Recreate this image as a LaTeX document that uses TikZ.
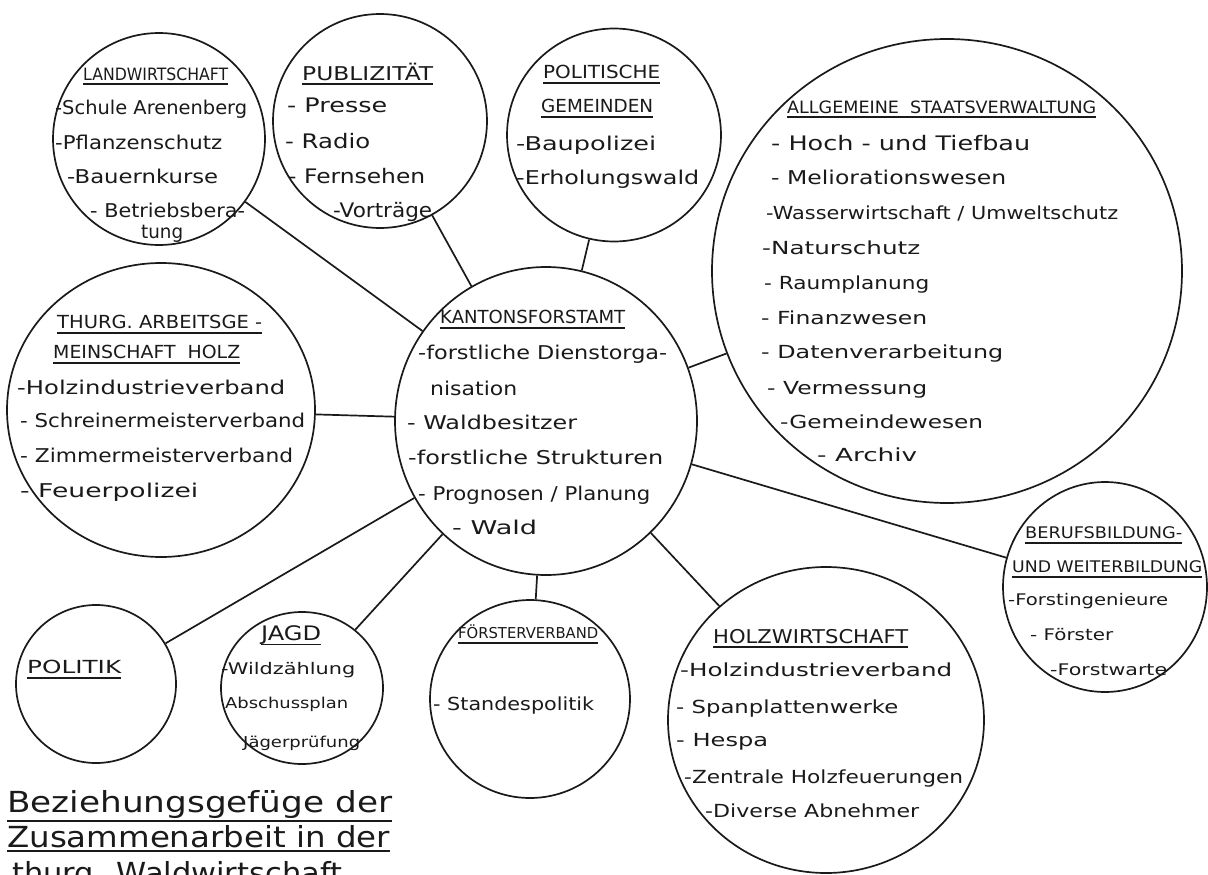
\documentclass[tikz,border=0pt]{standalone}
\usepackage{fontspec}
\setmainfont{DejaVu Sans}
\usepackage{graphicx}
\usetikzlibrary{shapes.geometric}
\newsavebox\ulbox
\newcommand\ul[2][5pt]{\sbox\ulbox{#2}\rlap{\rule[-#1]{\wd\ulbox}{1.8pt}}\usebox\ulbox}
\newcommand\T[6]{\node[txt,font=\fontsize{#5}{#5}\selectfont] (#1) at (#2,{#3+0.37*#5}) {\resizebox{#4pt}{\height}{#6}};}
\begin{document}
\begin{tikzpicture}[x=1pt,y=-1pt,
  ring/.style={ellipse,draw=ink,line width=1.7pt,inner sep=0pt},
  txt/.style={anchor=base west,inner sep=0pt,text=ink},
  link/.style={draw=ink,line width=1.7pt}]
\definecolor{ink}{HTML}{1A1A1A}
\useasboundingbox[fill=white] (0,0) rectangle (1208,875);
% circles
\node[ring,minimum width=212pt,minimum height=212pt] (lw) at (159,139) {};
\node[ring,minimum width=214pt,minimum height=214pt] (pu) at (380,121) {};
\node[ring,minimum width=214pt,minimum height=213pt] (pg) at (614,135) {};
\node[ring,minimum width=470pt,minimum height=464pt] (ag) at (947,271) {};
\node[ring,minimum width=302pt,minimum height=308pt] (kf) at (546,421) {};
\node[ring,minimum width=308pt,minimum height=294pt] (th) at (161,410) {};
\node[ring,minimum width=160pt,minimum height=158pt] (po) at (96,684) {};
\node[ring,minimum width=162pt,minimum height=152pt] (jg) at (302,688) {};
\node[ring,minimum width=200pt,minimum height=198pt] (fv) at (530,699) {};
\node[ring,minimum width=316pt,minimum height=306pt] (hw) at (826,720) {};
\node[ring,minimum width=204pt,minimum height=210pt] (bb) at (1105,587) {};
% connectors
\draw[link] (lw) -- (kf);
\draw[link] (pu) -- (kf);
\draw[link] (pg) -- (kf);
\draw[link] (ag) -- (kf);
\draw[link] (th) -- (kf);
\draw[link] (po) -- (kf);
\draw[link] (jg) -- (kf);
\draw[link] (fv) -- (kf);
\draw[link] (hw) -- (kf);
\draw[link] (bb) -- (kf);
% Landwirtschaft
\T{lw0}{83}{74}{145}{17}{\ul{LANDWIRTSCHAFT}}
\T{lw1}{55}{107}{192}{19}{-Schule Arenenberg}
\T{lw2}{55}{142}{167}{19}{-Pflanzenschutz}
\T{lw3}{67}{176}{151}{19}{-Bauernkurse}
\T{lw4}{90}{210}{155}{19}{- Betriebsbera-}
\T{lw5}{141}{231}{42}{19}{tung}
% Publizitaet
\T{pu0}{302}{73}{131}{19}{\ul{PUBLIZITÄT}}
\T{pu1}{287}{105}{100}{20}{- Presse}
\T{pu2}{285}{141}{85}{20}{- Radio}
\T{pu3}{288}{176}{137}{20}{- Fernsehen}
\T{pu4}{333}{210}{99}{20}{-Vorträge}
% Politische Gemeinden
\T{pg0}{543}{72}{117}{18}{\ul{POLITISCHE}}
\T{pg1}{541}{106}{112}{18}{\ul{GEMEINDEN}}
\T{pg2}{516}{143}{140}{19}{-Baupolizei}
\T{pg3}{516}{177}{183}{19}{-Erholungswald}
% Allgemeine Staatsverwaltung
\T{ag0}{787}{107}{309}{17}{\ul{ALLGEMEINE\ \ STAATSVERWALTUNG}}
\T{ag1}{771}{143}{259}{20}{- Hoch - und Tiefbau}
\T{ag2}{771}{177}{235}{19}{- Meliorationswesen}
\T{ag3}{766}{213}{352}{18}{-Wasserwirtschaft / Umweltschutz}
\T{ag4}{762}{248}{158}{18}{-Naturschutz}
\T{ag5}{764}{283}{165}{18}{- Raumplanung}
\T{ag6}{761}{318}{166}{18}{- Finanzwesen}
\T{ag7}{761}{352}{242}{18}{- Datenverarbeitung}
\T{ag8}{767}{388}{160}{18}{- Vermessung}
\T{ag9}{780}{422}{203}{18}{-Gemeindewesen}
\T{ag10}{817}{455}{100}{18}{- Archiv}
% Kantonsforstamt
\T{kf0}{440}{317}{185}{18}{\ul{KANTONSFORSTAMT}}
\T{kf1}{418}{352}{249}{19}{-forstliche Dienstorga-}
\T{kf2}{430}{388}{87}{19}{nisation}
\T{kf3}{407}{422}{170}{19}{- Waldbesitzer}
\T{kf4}{408}{457}{255}{19}{-forstliche Strukturen}
\T{kf5}{418}{493}{232}{19}{- Prognosen / Planung}
\T{kf6}{452}{527}{85}{19}{- Wald}
% Thurg. Arbeitsgemeinschaft Holz
\T{th0}{57}{322}{205}{18}{\ul{THURG. ARBEITSGE -}}
\T{th1}{53}{352}{187}{18}{\ul{MEINSCHAFT\ \ HOLZ}}
\T{th2}{17}{387}{268}{19}{-Holzindustrieverband}
\T{th3}{20}{420}{285}{19}{- Schreinermeisterverband}
\T{th4}{20}{455}{273}{19}{- Zimmermeisterverband}
\T{th5}{20}{490}{178}{19}{- Feuerpolizei}
% Politik
\T{po0}{27}{667}{94}{18}{\ul{POLITIK}}
% Jagd
\T{jg0}{261}{633}{60}{20}{\ul{JAGD}}
\T{jg1}{221}{669}{134}{16}{-Wildzählung}
\T{jg2}{225}{703}{123}{15}{Abschussplan}
\T{jg3}{243}{742}{117}{15}{Jägerprüfung}
% Foersterverband
\T{fv0}{458}{633}{140}{15}{\ul{FÖRSTERVERBAND}}
\T{fv1}{433}{704}{161}{18}{- Standespolitik}
% Holzwirtschaft
\T{hw0}{713}{636}{195}{19}{\ul{HOLZWIRTSCHAFT}}
\T{hw1}{680}{670}{272}{18}{-Holzindustrieverband}
\T{hw2}{676}{707}{222}{18}{- Spanplattenwerke}
\T{hw3}{676}{740}{92}{18}{- Hespa}
\T{hw4}{684}{777}{279}{18}{-Zentrale Holzfeuerungen}
\T{hw5}{705}{811}{214}{18}{-Diverse Abnehmer}
% Berufsbildung
\T{bb0}{1025}{533}{157}{16}{\ul{BERUFSBILDUNG-}}
\T{bb1}{1012}{567}{190}{16}{\ul{UND WEITERBILDUNG}}
\T{bb2}{1008}{600}{160}{16}{-Forstingenieure}
\T{bb3}{1030}{635}{83}{16}{- Förster}
\T{bb4}{1050}{670}{117}{16}{-Forstwarte}
% Title
\T{tt1}{7}{802}{385}{29}{\ul[9pt]{Beziehungsgefüge der}}
\T{tt2}{7}{837}{383}{29}{\ul[4pt]{Zusammenarbeit in der}}
\T{tt3}{12}{873}{330}{29}{thurg. Waldwirtschaft}
\end{tikzpicture}
\end{document}
